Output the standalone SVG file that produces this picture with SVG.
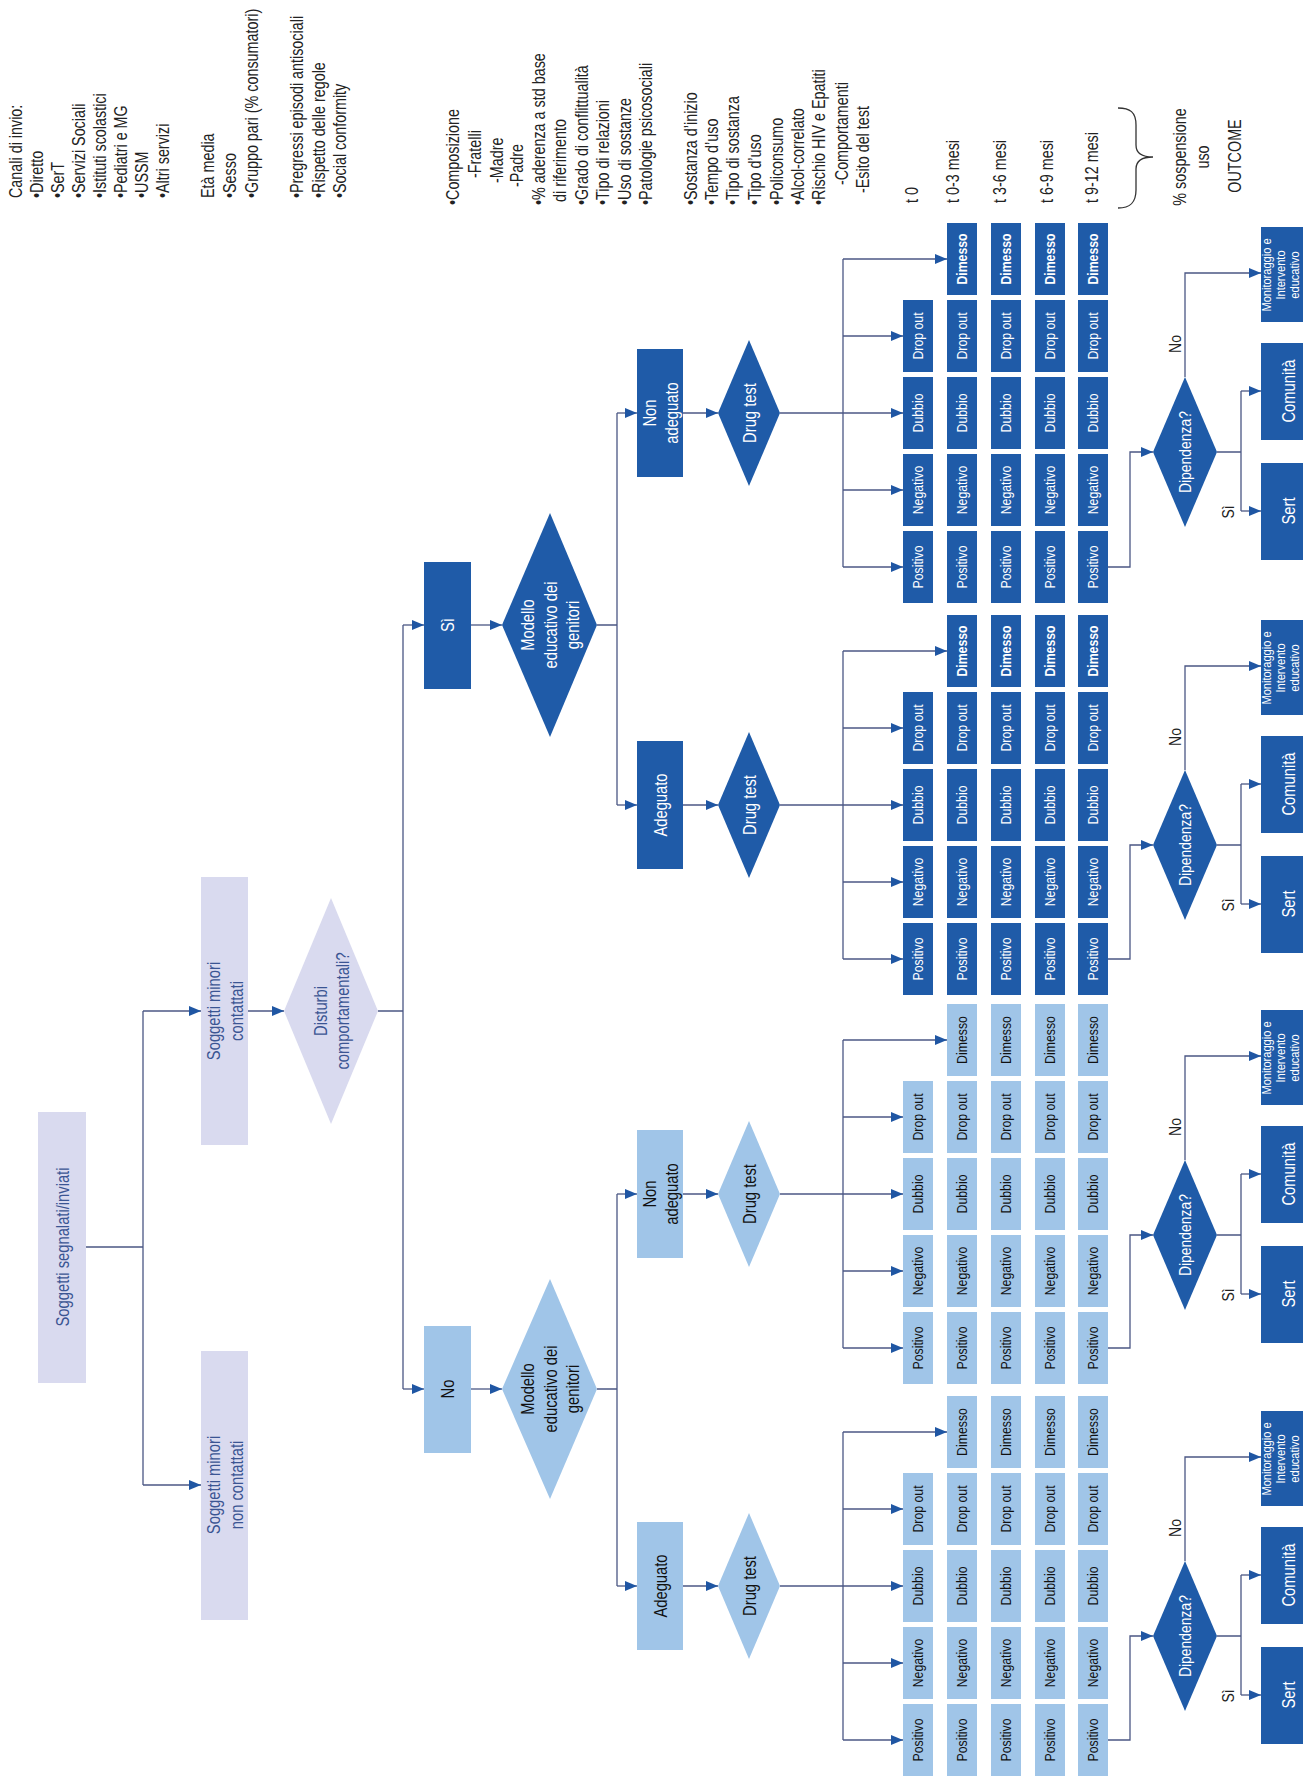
<svg xmlns="http://www.w3.org/2000/svg" width="1303" height="1778" viewBox="0 0 1303 1778">
<defs>
<marker id="ah" markerUnits="userSpaceOnUse" markerWidth="14" markerHeight="12" refX="12" refY="5" orient="auto"><path d="M0,0 L12,5 L0,10 z" fill="#1f56a3"/></marker>
<style>
text{font-family:"Liberation Sans",Arial,sans-serif;dominant-baseline:central}
.ln{stroke:#4b5784;stroke-width:1.3;fill:none}
.ar{marker-end:url(#ah)}
.dark rect,.dark polygon{fill:#1f5ba8}
.light rect,.light polygon{fill:#a0c5e8}
.lav rect,.lav polygon{fill:#d9daef}
.dark text{fill:#fff}
.light text{fill:#111}
.lav text{fill:#3b5593}
.node text{text-anchor:middle;font-size:18px}
.cols text{text-anchor:middle;font-size:15px}
.dark .dm{font-weight:bold}
.note text{font-size:17.5px;fill:#222;text-anchor:start}
.note .mid{text-anchor:middle}
.lbl text{font-size:17px;fill:#222;text-anchor:middle}
.bot text{font-size:18px}
.bot .mon{font-size:13.5px}
</style>
</defs>
<rect width="1303" height="1778" fill="#fff"/>

<g id="notes" class="note">
<text transform="translate(16,198) rotate(-90) scale(.82,1)">Canali di invio:</text>
<text transform="translate(37,198) rotate(-90) scale(.82,1)">•Diretto</text>
<text transform="translate(58,198) rotate(-90) scale(.82,1)">•SerT</text>
<text transform="translate(79,198) rotate(-90) scale(.82,1)">•Servizi Sociali</text>
<text transform="translate(100,198) rotate(-90) scale(.82,1)">•Istituti scolastici</text>
<text transform="translate(121,198) rotate(-90) scale(.82,1)">•Pediatri e MG</text>
<text transform="translate(142,198) rotate(-90) scale(.82,1)">•USSM</text>
<text transform="translate(163,198) rotate(-90) scale(.82,1)">•Altri servizi</text>
<text transform="translate(208,198) rotate(-90) scale(.82,1)">Età media</text>
<text transform="translate(230,198) rotate(-90) scale(.82,1)">•Sesso</text>
<text transform="translate(252,198) rotate(-90) scale(.82,1)">•Gruppo pari (% consumatori)</text>
<text transform="translate(297,198) rotate(-90) scale(.82,1)">•Pregressi episodi antisociali</text>
<text transform="translate(319,198) rotate(-90) scale(.82,1)">•Rispetto delle regole</text>
<text transform="translate(340,198) rotate(-90) scale(.82,1)">•Social conformity</text>

<text transform="translate(453,205) rotate(-90) scale(.82,1)">•Composizione</text>
<text transform="translate(475,178) rotate(-90) scale(.82,1)">-Fratelli</text>
<text transform="translate(497,183) rotate(-90) scale(.82,1)">-Madre</text>
<text transform="translate(517,187) rotate(-90) scale(.82,1)">-Padre</text>
<text transform="translate(539,205) rotate(-90) scale(.82,1)">•% aderenza a std base</text>
<text transform="translate(560,202) rotate(-90) scale(.82,1)">di riferimento</text>
<text transform="translate(582,205) rotate(-90) scale(.82,1)">•Grado di conflittualità</text>
<text transform="translate(603,205) rotate(-90) scale(.82,1)">•Tipo di relazioni</text>
<text transform="translate(625,205) rotate(-90) scale(.82,1)">•Uso di sostanze</text>
<text transform="translate(646,205) rotate(-90) scale(.82,1)">•Patologie psicosociali</text>
<text transform="translate(691,205) rotate(-90) scale(.82,1)">•Sostanza d’inizio</text>
<text transform="translate(712,205) rotate(-90) scale(.82,1)">•Tempo d’uso</text>
<text transform="translate(733,205) rotate(-90) scale(.82,1)">•Tipo di sostanza</text>
<text transform="translate(755,205) rotate(-90) scale(.82,1)">•Tipo d’uso</text>
<text transform="translate(777,205) rotate(-90) scale(.82,1)">•Policonsumo</text>
<text transform="translate(798,205) rotate(-90) scale(.82,1)">•Alcol-correlato</text>
<text transform="translate(819,205) rotate(-90) scale(.82,1)">•Rischio HIV e Epatiti</text>
<text transform="translate(842,185) rotate(-90) scale(.82,1)">-Comportamenti</text>
<text transform="translate(863,193) rotate(-90) scale(.82,1)">-Esito del test</text>

<text transform="translate(912,203) rotate(-90) scale(.82,1)">t 0</text>
<text transform="translate(953,203) rotate(-90) scale(.82,1)">t 0-3 mesi</text>
<text transform="translate(1000,203) rotate(-90) scale(.82,1)">t 3-6 mesi</text>
<text transform="translate(1047,203) rotate(-90) scale(.82,1)">t 6-9 mesi</text>
<text transform="translate(1092,203) rotate(-90) scale(.82,1)">t 9-12 mesi</text>
<text class="mid" transform="translate(1180,157) rotate(-90) scale(.82,1)">% sospensione</text>
<text class="mid" transform="translate(1203,157) rotate(-90) scale(.82,1)">uso</text>
<text class="mid" transform="translate(1235,156) rotate(-90) scale(.82,1)">OUTCOME</text>
<path d="M1118,108 C1130,108 1136,112 1136,125 L1136,145 C1136,153 1142,157 1153,157 C1142,157 1136,161 1136,169 L1136,190 C1136,203 1130,208 1118,208" fill="none" stroke="#333" stroke-width="1.3"/>
</g>

<g id="connectors">
<path class="ln" d="M86,1247 H143 M143,1011 V1485"/>
<path class="ln ar" d="M143,1011 H201"/>
<path class="ln ar" d="M143,1485 H201"/>
<path class="ln ar" d="M248,1011 H284"/>
<path class="ln" d="M378,1011 H403 M403,625 V1389"/>
<path class="ln ar" d="M403,625 H424"/>
<path class="ln ar" d="M403,1389 H424"/>
<path class="ln ar" d="M471,625 H502"/>
<path class="ln ar" d="M471,1389 H502"/>
<path class="ln" d="M597,625 H617 M617,413 V805 M597,1389 H617 M617,1194 V1586"/>
<path class="ln ar" d="M617,413 H637"/>
<path class="ln ar" d="M617,805 H637"/>
<path class="ln ar" d="M617,1194 H637"/>
<path class="ln ar" d="M617,1586 H637"/>
<path class="ln ar" d="M683,413 H718"/>
<path class="ln ar" d="M780,413 H903"/>
<path class="ln" d="M843,259 V567"/>
<path class="ln ar" d="M843,259 H947"/>
<path class="ln ar" d="M843,336 H903"/>
<path class="ln ar" d="M843,490 H903"/>
<path class="ln ar" d="M843,567 H903"/>
<path class="ln ar" d="M1108,567 H1130 V452 H1153"/>
<path class="ln" d="M1217,452 H1241 M1241,391 V511"/>
<path class="ln ar" d="M1241,391 H1261"/>
<path class="ln ar" d="M1241,511 H1261"/>
<path class="ln ar" d="M1185,377 V273 H1261"/>
<path class="ln ar" d="M683,805 H718"/>
<path class="ln ar" d="M780,805 H903"/>
<path class="ln" d="M843,651 V959"/>
<path class="ln ar" d="M843,651 H947"/>
<path class="ln ar" d="M843,728 H903"/>
<path class="ln ar" d="M843,882 H903"/>
<path class="ln ar" d="M843,959 H903"/>
<path class="ln ar" d="M1108,959 H1130 V845 H1153"/>
<path class="ln" d="M1217,845 H1241 M1241,784 V904"/>
<path class="ln ar" d="M1241,784 H1261"/>
<path class="ln ar" d="M1241,904 H1261"/>
<path class="ln ar" d="M1185,770 V666 H1261"/>
<path class="ln ar" d="M683,1194 H718"/>
<path class="ln ar" d="M780,1194 H903"/>
<path class="ln" d="M843,1040 V1348"/>
<path class="ln ar" d="M843,1040 H947"/>
<path class="ln ar" d="M843,1117 H903"/>
<path class="ln ar" d="M843,1271 H903"/>
<path class="ln ar" d="M843,1348 H903"/>
<path class="ln ar" d="M1108,1348 H1130 V1235 H1153"/>
<path class="ln" d="M1217,1235 H1241 M1241,1174 V1294"/>
<path class="ln ar" d="M1241,1174 H1261"/>
<path class="ln ar" d="M1241,1294 H1261"/>
<path class="ln ar" d="M1185,1160 V1056 H1261"/>
<path class="ln ar" d="M683,1586 H718"/>
<path class="ln ar" d="M780,1586 H903"/>
<path class="ln" d="M843,1432 V1740"/>
<path class="ln ar" d="M843,1432 H947"/>
<path class="ln ar" d="M843,1509 H903"/>
<path class="ln ar" d="M843,1663 H903"/>
<path class="ln ar" d="M843,1740 H903"/>
<path class="ln ar" d="M1108,1740 H1130 V1636 H1153"/>
<path class="ln" d="M1217,1636 H1241 M1241,1575 V1695"/>
<path class="ln ar" d="M1241,1575 H1261"/>
<path class="ln ar" d="M1241,1695 H1261"/>
<path class="ln ar" d="M1185,1561 V1457 H1261"/>
</g>

<g id="n-root" class="node lav"><rect x="38" y="1112" width="48" height="271"/><text transform="translate(62,1247) rotate(-90) scale(.82,1)">Soggetti segnalati/inviati</text></g>
<g id="n-contattati" class="node lav"><rect x="201" y="877" width="47" height="268"/><text transform="translate(213,1011) rotate(-90) scale(.82,1)">Soggetti minori</text><text transform="translate(236,1011) rotate(-90) scale(.82,1)">contattati</text></g>
<g id="n-noncontattati" class="node lav"><rect x="201" y="1351" width="47" height="269"/><text transform="translate(213,1485) rotate(-90) scale(.82,1)">Soggetti minori</text><text transform="translate(236,1485) rotate(-90) scale(.82,1)">non contattati</text></g>
<g id="n-disturbi" class="node lav"><polygon points="284,1011 331,898 378,1011 331,1124"/><text transform="translate(320,1011) rotate(-90) scale(.82,1)">Disturbi</text><text transform="translate(342,1011) rotate(-90) scale(.82,1)">comportamentali?</text></g>

<g id="n-si" class="node dark"><rect x="424" y="562" width="47" height="127"/><text transform="translate(447,625) rotate(-90) scale(.82,1)">Sì</text></g>
<g id="n-no" class="node light"><rect x="424" y="1326" width="47" height="127"/><text transform="translate(447,1389) rotate(-90) scale(.82,1)">No</text></g>
<g id="n-modello-si" class="node dark"><polygon points="502,625 550,513 597,625 550,737"/><text transform="translate(527,625) rotate(-90) scale(.82,1)">Modello</text><text transform="translate(550,625) rotate(-90) scale(.82,1)">educativo dei</text><text transform="translate(572,625) rotate(-90) scale(.82,1)">genitori</text></g>
<g id="n-modello-no" class="node light"><polygon points="502,1389 550,1279 597,1389 550,1499"/><text transform="translate(527,1389) rotate(-90) scale(.82,1)">Modello</text><text transform="translate(550,1389) rotate(-90) scale(.82,1)">educativo dei</text><text transform="translate(572,1389) rotate(-90) scale(.82,1)">genitori</text></g>

<g id="n-g1-nonadeguato" class="node dark"><rect x="637" y="349" width="46" height="128"/><text transform="translate(649,413) rotate(-90) scale(.82,1)">Non</text><text transform="translate(671,413) rotate(-90) scale(.82,1)">adeguato</text></g>
<g id="n-g2-adeguato" class="node dark"><rect x="637" y="741" width="46" height="128"/><text transform="translate(660,805) rotate(-90) scale(.82,1)">Adeguato</text></g>
<g id="n-g3-nonadeguato" class="node light"><rect x="637" y="1130" width="46" height="128"/><text transform="translate(649,1194) rotate(-90) scale(.82,1)">Non</text><text transform="translate(671,1194) rotate(-90) scale(.82,1)">adeguato</text></g>
<g id="n-g4-adeguato" class="node light"><rect x="637" y="1522" width="46" height="128"/><text transform="translate(660,1586) rotate(-90) scale(.82,1)">Adeguato</text></g>

<g id="n-g1-drugtest" class="node dark"><polygon points="718,413 749,340 780,413 749,486"/><text transform="translate(749,413) rotate(-90) scale(.82,1)">Drug test</text></g>
<g id="n-g2-drugtest" class="node dark"><polygon points="718,805 749,732 780,805 749,878"/><text transform="translate(749,805) rotate(-90) scale(.82,1)">Drug test</text></g>
<g id="n-g3-drugtest" class="node light"><polygon points="718,1194 749,1121 780,1194 749,1267"/><text transform="translate(749,1194) rotate(-90) scale(.82,1)">Drug test</text></g>
<g id="n-g4-drugtest" class="node light"><polygon points="718,1586 749,1513 780,1586 749,1659"/><text transform="translate(749,1586) rotate(-90) scale(.82,1)">Drug test</text></g>

<g id="g1-cols" class="cols dark" transform="translate(0,413)">
<g id="g1-t0-dropout"><rect x="903" y="-113" width="30" height="72"/><text transform="translate(918,-77) rotate(-90) scale(.82,1)">Drop out</text></g>
<g id="g1-t0-dubbio"><rect x="903" y="-36" width="30" height="72"/><text transform="translate(918,0) rotate(-90) scale(.82,1)">Dubbio</text></g>
<g id="g1-t0-negativo"><rect x="903" y="41" width="30" height="72"/><text transform="translate(918,77) rotate(-90) scale(.82,1)">Negativo</text></g>
<g id="g1-t0-positivo"><rect x="903" y="118" width="30" height="72"/><text transform="translate(918,154) rotate(-90) scale(.82,1)">Positivo</text></g>
<g id="g1-t1-dimesso"><rect x="947" y="-190" width="30" height="72"/><text class="dm" transform="translate(962,-154) rotate(-90) scale(.82,1)">Dimesso</text></g>
<g id="g1-t1-dropout"><rect x="947" y="-113" width="30" height="72"/><text transform="translate(962,-77) rotate(-90) scale(.82,1)">Drop out</text></g>
<g id="g1-t1-dubbio"><rect x="947" y="-36" width="30" height="72"/><text transform="translate(962,0) rotate(-90) scale(.82,1)">Dubbio</text></g>
<g id="g1-t1-negativo"><rect x="947" y="41" width="30" height="72"/><text transform="translate(962,77) rotate(-90) scale(.82,1)">Negativo</text></g>
<g id="g1-t1-positivo"><rect x="947" y="118" width="30" height="72"/><text transform="translate(962,154) rotate(-90) scale(.82,1)">Positivo</text></g>
<g id="g1-t2-dimesso"><rect x="991" y="-190" width="30" height="72"/><text class="dm" transform="translate(1006,-154) rotate(-90) scale(.82,1)">Dimesso</text></g>
<g id="g1-t2-dropout"><rect x="991" y="-113" width="30" height="72"/><text transform="translate(1006,-77) rotate(-90) scale(.82,1)">Drop out</text></g>
<g id="g1-t2-dubbio"><rect x="991" y="-36" width="30" height="72"/><text transform="translate(1006,0) rotate(-90) scale(.82,1)">Dubbio</text></g>
<g id="g1-t2-negativo"><rect x="991" y="41" width="30" height="72"/><text transform="translate(1006,77) rotate(-90) scale(.82,1)">Negativo</text></g>
<g id="g1-t2-positivo"><rect x="991" y="118" width="30" height="72"/><text transform="translate(1006,154) rotate(-90) scale(.82,1)">Positivo</text></g>
<g id="g1-t3-dimesso"><rect x="1035" y="-190" width="30" height="72"/><text class="dm" transform="translate(1050,-154) rotate(-90) scale(.82,1)">Dimesso</text></g>
<g id="g1-t3-dropout"><rect x="1035" y="-113" width="30" height="72"/><text transform="translate(1050,-77) rotate(-90) scale(.82,1)">Drop out</text></g>
<g id="g1-t3-dubbio"><rect x="1035" y="-36" width="30" height="72"/><text transform="translate(1050,0) rotate(-90) scale(.82,1)">Dubbio</text></g>
<g id="g1-t3-negativo"><rect x="1035" y="41" width="30" height="72"/><text transform="translate(1050,77) rotate(-90) scale(.82,1)">Negativo</text></g>
<g id="g1-t3-positivo"><rect x="1035" y="118" width="30" height="72"/><text transform="translate(1050,154) rotate(-90) scale(.82,1)">Positivo</text></g>
<g id="g1-t4-dimesso"><rect x="1078" y="-190" width="30" height="72"/><text class="dm" transform="translate(1093,-154) rotate(-90) scale(.82,1)">Dimesso</text></g>
<g id="g1-t4-dropout"><rect x="1078" y="-113" width="30" height="72"/><text transform="translate(1093,-77) rotate(-90) scale(.82,1)">Drop out</text></g>
<g id="g1-t4-dubbio"><rect x="1078" y="-36" width="30" height="72"/><text transform="translate(1093,0) rotate(-90) scale(.82,1)">Dubbio</text></g>
<g id="g1-t4-negativo"><rect x="1078" y="41" width="30" height="72"/><text transform="translate(1093,77) rotate(-90) scale(.82,1)">Negativo</text></g>
<g id="g1-t4-positivo"><rect x="1078" y="118" width="30" height="72"/><text transform="translate(1093,154) rotate(-90) scale(.82,1)">Positivo</text></g>
</g>

<g id="g2-cols" class="cols dark" transform="translate(0,805)">
<g id="g2-t0-dropout"><rect x="903" y="-113" width="30" height="72"/><text transform="translate(918,-77) rotate(-90) scale(.82,1)">Drop out</text></g>
<g id="g2-t0-dubbio"><rect x="903" y="-36" width="30" height="72"/><text transform="translate(918,0) rotate(-90) scale(.82,1)">Dubbio</text></g>
<g id="g2-t0-negativo"><rect x="903" y="41" width="30" height="72"/><text transform="translate(918,77) rotate(-90) scale(.82,1)">Negativo</text></g>
<g id="g2-t0-positivo"><rect x="903" y="118" width="30" height="72"/><text transform="translate(918,154) rotate(-90) scale(.82,1)">Positivo</text></g>
<g id="g2-t1-dimesso"><rect x="947" y="-190" width="30" height="72"/><text class="dm" transform="translate(962,-154) rotate(-90) scale(.82,1)">Dimesso</text></g>
<g id="g2-t1-dropout"><rect x="947" y="-113" width="30" height="72"/><text transform="translate(962,-77) rotate(-90) scale(.82,1)">Drop out</text></g>
<g id="g2-t1-dubbio"><rect x="947" y="-36" width="30" height="72"/><text transform="translate(962,0) rotate(-90) scale(.82,1)">Dubbio</text></g>
<g id="g2-t1-negativo"><rect x="947" y="41" width="30" height="72"/><text transform="translate(962,77) rotate(-90) scale(.82,1)">Negativo</text></g>
<g id="g2-t1-positivo"><rect x="947" y="118" width="30" height="72"/><text transform="translate(962,154) rotate(-90) scale(.82,1)">Positivo</text></g>
<g id="g2-t2-dimesso"><rect x="991" y="-190" width="30" height="72"/><text class="dm" transform="translate(1006,-154) rotate(-90) scale(.82,1)">Dimesso</text></g>
<g id="g2-t2-dropout"><rect x="991" y="-113" width="30" height="72"/><text transform="translate(1006,-77) rotate(-90) scale(.82,1)">Drop out</text></g>
<g id="g2-t2-dubbio"><rect x="991" y="-36" width="30" height="72"/><text transform="translate(1006,0) rotate(-90) scale(.82,1)">Dubbio</text></g>
<g id="g2-t2-negativo"><rect x="991" y="41" width="30" height="72"/><text transform="translate(1006,77) rotate(-90) scale(.82,1)">Negativo</text></g>
<g id="g2-t2-positivo"><rect x="991" y="118" width="30" height="72"/><text transform="translate(1006,154) rotate(-90) scale(.82,1)">Positivo</text></g>
<g id="g2-t3-dimesso"><rect x="1035" y="-190" width="30" height="72"/><text class="dm" transform="translate(1050,-154) rotate(-90) scale(.82,1)">Dimesso</text></g>
<g id="g2-t3-dropout"><rect x="1035" y="-113" width="30" height="72"/><text transform="translate(1050,-77) rotate(-90) scale(.82,1)">Drop out</text></g>
<g id="g2-t3-dubbio"><rect x="1035" y="-36" width="30" height="72"/><text transform="translate(1050,0) rotate(-90) scale(.82,1)">Dubbio</text></g>
<g id="g2-t3-negativo"><rect x="1035" y="41" width="30" height="72"/><text transform="translate(1050,77) rotate(-90) scale(.82,1)">Negativo</text></g>
<g id="g2-t3-positivo"><rect x="1035" y="118" width="30" height="72"/><text transform="translate(1050,154) rotate(-90) scale(.82,1)">Positivo</text></g>
<g id="g2-t4-dimesso"><rect x="1078" y="-190" width="30" height="72"/><text class="dm" transform="translate(1093,-154) rotate(-90) scale(.82,1)">Dimesso</text></g>
<g id="g2-t4-dropout"><rect x="1078" y="-113" width="30" height="72"/><text transform="translate(1093,-77) rotate(-90) scale(.82,1)">Drop out</text></g>
<g id="g2-t4-dubbio"><rect x="1078" y="-36" width="30" height="72"/><text transform="translate(1093,0) rotate(-90) scale(.82,1)">Dubbio</text></g>
<g id="g2-t4-negativo"><rect x="1078" y="41" width="30" height="72"/><text transform="translate(1093,77) rotate(-90) scale(.82,1)">Negativo</text></g>
<g id="g2-t4-positivo"><rect x="1078" y="118" width="30" height="72"/><text transform="translate(1093,154) rotate(-90) scale(.82,1)">Positivo</text></g>
</g>

<g id="g3-cols" class="cols light" transform="translate(0,1194)">
<g id="g3-t0-dropout"><rect x="903" y="-113" width="30" height="72"/><text transform="translate(918,-77) rotate(-90) scale(.82,1)">Drop out</text></g>
<g id="g3-t0-dubbio"><rect x="903" y="-36" width="30" height="72"/><text transform="translate(918,0) rotate(-90) scale(.82,1)">Dubbio</text></g>
<g id="g3-t0-negativo"><rect x="903" y="41" width="30" height="72"/><text transform="translate(918,77) rotate(-90) scale(.82,1)">Negativo</text></g>
<g id="g3-t0-positivo"><rect x="903" y="118" width="30" height="72"/><text transform="translate(918,154) rotate(-90) scale(.82,1)">Positivo</text></g>
<g id="g3-t1-dimesso"><rect x="947" y="-190" width="30" height="72"/><text class="dm" transform="translate(962,-154) rotate(-90) scale(.82,1)">Dimesso</text></g>
<g id="g3-t1-dropout"><rect x="947" y="-113" width="30" height="72"/><text transform="translate(962,-77) rotate(-90) scale(.82,1)">Drop out</text></g>
<g id="g3-t1-dubbio"><rect x="947" y="-36" width="30" height="72"/><text transform="translate(962,0) rotate(-90) scale(.82,1)">Dubbio</text></g>
<g id="g3-t1-negativo"><rect x="947" y="41" width="30" height="72"/><text transform="translate(962,77) rotate(-90) scale(.82,1)">Negativo</text></g>
<g id="g3-t1-positivo"><rect x="947" y="118" width="30" height="72"/><text transform="translate(962,154) rotate(-90) scale(.82,1)">Positivo</text></g>
<g id="g3-t2-dimesso"><rect x="991" y="-190" width="30" height="72"/><text class="dm" transform="translate(1006,-154) rotate(-90) scale(.82,1)">Dimesso</text></g>
<g id="g3-t2-dropout"><rect x="991" y="-113" width="30" height="72"/><text transform="translate(1006,-77) rotate(-90) scale(.82,1)">Drop out</text></g>
<g id="g3-t2-dubbio"><rect x="991" y="-36" width="30" height="72"/><text transform="translate(1006,0) rotate(-90) scale(.82,1)">Dubbio</text></g>
<g id="g3-t2-negativo"><rect x="991" y="41" width="30" height="72"/><text transform="translate(1006,77) rotate(-90) scale(.82,1)">Negativo</text></g>
<g id="g3-t2-positivo"><rect x="991" y="118" width="30" height="72"/><text transform="translate(1006,154) rotate(-90) scale(.82,1)">Positivo</text></g>
<g id="g3-t3-dimesso"><rect x="1035" y="-190" width="30" height="72"/><text class="dm" transform="translate(1050,-154) rotate(-90) scale(.82,1)">Dimesso</text></g>
<g id="g3-t3-dropout"><rect x="1035" y="-113" width="30" height="72"/><text transform="translate(1050,-77) rotate(-90) scale(.82,1)">Drop out</text></g>
<g id="g3-t3-dubbio"><rect x="1035" y="-36" width="30" height="72"/><text transform="translate(1050,0) rotate(-90) scale(.82,1)">Dubbio</text></g>
<g id="g3-t3-negativo"><rect x="1035" y="41" width="30" height="72"/><text transform="translate(1050,77) rotate(-90) scale(.82,1)">Negativo</text></g>
<g id="g3-t3-positivo"><rect x="1035" y="118" width="30" height="72"/><text transform="translate(1050,154) rotate(-90) scale(.82,1)">Positivo</text></g>
<g id="g3-t4-dimesso"><rect x="1078" y="-190" width="30" height="72"/><text class="dm" transform="translate(1093,-154) rotate(-90) scale(.82,1)">Dimesso</text></g>
<g id="g3-t4-dropout"><rect x="1078" y="-113" width="30" height="72"/><text transform="translate(1093,-77) rotate(-90) scale(.82,1)">Drop out</text></g>
<g id="g3-t4-dubbio"><rect x="1078" y="-36" width="30" height="72"/><text transform="translate(1093,0) rotate(-90) scale(.82,1)">Dubbio</text></g>
<g id="g3-t4-negativo"><rect x="1078" y="41" width="30" height="72"/><text transform="translate(1093,77) rotate(-90) scale(.82,1)">Negativo</text></g>
<g id="g3-t4-positivo"><rect x="1078" y="118" width="30" height="72"/><text transform="translate(1093,154) rotate(-90) scale(.82,1)">Positivo</text></g>
</g>

<g id="g4-cols" class="cols light" transform="translate(0,1586)">
<g id="g4-t0-dropout"><rect x="903" y="-113" width="30" height="72"/><text transform="translate(918,-77) rotate(-90) scale(.82,1)">Drop out</text></g>
<g id="g4-t0-dubbio"><rect x="903" y="-36" width="30" height="72"/><text transform="translate(918,0) rotate(-90) scale(.82,1)">Dubbio</text></g>
<g id="g4-t0-negativo"><rect x="903" y="41" width="30" height="72"/><text transform="translate(918,77) rotate(-90) scale(.82,1)">Negativo</text></g>
<g id="g4-t0-positivo"><rect x="903" y="118" width="30" height="72"/><text transform="translate(918,154) rotate(-90) scale(.82,1)">Positivo</text></g>
<g id="g4-t1-dimesso"><rect x="947" y="-190" width="30" height="72"/><text class="dm" transform="translate(962,-154) rotate(-90) scale(.82,1)">Dimesso</text></g>
<g id="g4-t1-dropout"><rect x="947" y="-113" width="30" height="72"/><text transform="translate(962,-77) rotate(-90) scale(.82,1)">Drop out</text></g>
<g id="g4-t1-dubbio"><rect x="947" y="-36" width="30" height="72"/><text transform="translate(962,0) rotate(-90) scale(.82,1)">Dubbio</text></g>
<g id="g4-t1-negativo"><rect x="947" y="41" width="30" height="72"/><text transform="translate(962,77) rotate(-90) scale(.82,1)">Negativo</text></g>
<g id="g4-t1-positivo"><rect x="947" y="118" width="30" height="72"/><text transform="translate(962,154) rotate(-90) scale(.82,1)">Positivo</text></g>
<g id="g4-t2-dimesso"><rect x="991" y="-190" width="30" height="72"/><text class="dm" transform="translate(1006,-154) rotate(-90) scale(.82,1)">Dimesso</text></g>
<g id="g4-t2-dropout"><rect x="991" y="-113" width="30" height="72"/><text transform="translate(1006,-77) rotate(-90) scale(.82,1)">Drop out</text></g>
<g id="g4-t2-dubbio"><rect x="991" y="-36" width="30" height="72"/><text transform="translate(1006,0) rotate(-90) scale(.82,1)">Dubbio</text></g>
<g id="g4-t2-negativo"><rect x="991" y="41" width="30" height="72"/><text transform="translate(1006,77) rotate(-90) scale(.82,1)">Negativo</text></g>
<g id="g4-t2-positivo"><rect x="991" y="118" width="30" height="72"/><text transform="translate(1006,154) rotate(-90) scale(.82,1)">Positivo</text></g>
<g id="g4-t3-dimesso"><rect x="1035" y="-190" width="30" height="72"/><text class="dm" transform="translate(1050,-154) rotate(-90) scale(.82,1)">Dimesso</text></g>
<g id="g4-t3-dropout"><rect x="1035" y="-113" width="30" height="72"/><text transform="translate(1050,-77) rotate(-90) scale(.82,1)">Drop out</text></g>
<g id="g4-t3-dubbio"><rect x="1035" y="-36" width="30" height="72"/><text transform="translate(1050,0) rotate(-90) scale(.82,1)">Dubbio</text></g>
<g id="g4-t3-negativo"><rect x="1035" y="41" width="30" height="72"/><text transform="translate(1050,77) rotate(-90) scale(.82,1)">Negativo</text></g>
<g id="g4-t3-positivo"><rect x="1035" y="118" width="30" height="72"/><text transform="translate(1050,154) rotate(-90) scale(.82,1)">Positivo</text></g>
<g id="g4-t4-dimesso"><rect x="1078" y="-190" width="30" height="72"/><text class="dm" transform="translate(1093,-154) rotate(-90) scale(.82,1)">Dimesso</text></g>
<g id="g4-t4-dropout"><rect x="1078" y="-113" width="30" height="72"/><text transform="translate(1093,-77) rotate(-90) scale(.82,1)">Drop out</text></g>
<g id="g4-t4-dubbio"><rect x="1078" y="-36" width="30" height="72"/><text transform="translate(1093,0) rotate(-90) scale(.82,1)">Dubbio</text></g>
<g id="g4-t4-negativo"><rect x="1078" y="41" width="30" height="72"/><text transform="translate(1093,77) rotate(-90) scale(.82,1)">Negativo</text></g>
<g id="g4-t4-positivo"><rect x="1078" y="118" width="30" height="72"/><text transform="translate(1093,154) rotate(-90) scale(.82,1)">Positivo</text></g>
</g>

<g id="g1-bottom" class="node dark bot" transform="translate(0,452)">
<g id="g1-dipendenza"><polygon points="1153,0 1185,-75 1217,0 1185,75"/><text style="font-size:17px" transform="translate(1185,0) rotate(-90) scale(.82,1)">Dipendenza?</text></g>
<g id="g1-monitoraggio"><rect x="1261" y="-225" width="60" height="95"/><text class="mon" transform="translate(1267,-177) rotate(-90) scale(.82,1)">Monitoraggio e</text><text class="mon" transform="translate(1281,-177) rotate(-90) scale(.82,1)">Intervento</text><text class="mon" transform="translate(1295,-177) rotate(-90) scale(.82,1)">educativo</text></g>
<g id="g1-comunita"><rect x="1261" y="-109" width="60" height="97"/><text transform="translate(1288,-61) rotate(-90) scale(.82,1)">Comunità</text></g>
<g id="g1-sert"><rect x="1261" y="11" width="60" height="97"/><text transform="translate(1288,59) rotate(-90) scale(.82,1)">Sert</text></g>
</g>
<g id="g2-bottom" class="node dark bot" transform="translate(0,845)">
<g id="g2-dipendenza"><polygon points="1153,0 1185,-75 1217,0 1185,75"/><text style="font-size:17px" transform="translate(1185,0) rotate(-90) scale(.82,1)">Dipendenza?</text></g>
<g id="g2-monitoraggio"><rect x="1261" y="-225" width="60" height="95"/><text class="mon" transform="translate(1267,-177) rotate(-90) scale(.82,1)">Monitoraggio e</text><text class="mon" transform="translate(1281,-177) rotate(-90) scale(.82,1)">Intervento</text><text class="mon" transform="translate(1295,-177) rotate(-90) scale(.82,1)">educativo</text></g>
<g id="g2-comunita"><rect x="1261" y="-109" width="60" height="97"/><text transform="translate(1288,-61) rotate(-90) scale(.82,1)">Comunità</text></g>
<g id="g2-sert"><rect x="1261" y="11" width="60" height="97"/><text transform="translate(1288,59) rotate(-90) scale(.82,1)">Sert</text></g>
</g>
<g id="g3-bottom" class="node dark bot" transform="translate(0,1235)">
<g id="g3-dipendenza"><polygon points="1153,0 1185,-75 1217,0 1185,75"/><text style="font-size:17px" transform="translate(1185,0) rotate(-90) scale(.82,1)">Dipendenza?</text></g>
<g id="g3-monitoraggio"><rect x="1261" y="-225" width="60" height="95"/><text class="mon" transform="translate(1267,-177) rotate(-90) scale(.82,1)">Monitoraggio e</text><text class="mon" transform="translate(1281,-177) rotate(-90) scale(.82,1)">Intervento</text><text class="mon" transform="translate(1295,-177) rotate(-90) scale(.82,1)">educativo</text></g>
<g id="g3-comunita"><rect x="1261" y="-109" width="60" height="97"/><text transform="translate(1288,-61) rotate(-90) scale(.82,1)">Comunità</text></g>
<g id="g3-sert"><rect x="1261" y="11" width="60" height="97"/><text transform="translate(1288,59) rotate(-90) scale(.82,1)">Sert</text></g>
</g>
<g id="g4-bottom" class="node dark bot" transform="translate(0,1636)">
<g id="g4-dipendenza"><polygon points="1153,0 1185,-75 1217,0 1185,75"/><text style="font-size:17px" transform="translate(1185,0) rotate(-90) scale(.82,1)">Dipendenza?</text></g>
<g id="g4-monitoraggio"><rect x="1261" y="-225" width="60" height="95"/><text class="mon" transform="translate(1267,-177) rotate(-90) scale(.82,1)">Monitoraggio e</text><text class="mon" transform="translate(1281,-177) rotate(-90) scale(.82,1)">Intervento</text><text class="mon" transform="translate(1295,-177) rotate(-90) scale(.82,1)">educativo</text></g>
<g id="g4-comunita"><rect x="1261" y="-109" width="60" height="97"/><text transform="translate(1288,-61) rotate(-90) scale(.82,1)">Comunità</text></g>
<g id="g4-sert"><rect x="1261" y="11" width="60" height="97"/><text transform="translate(1288,59) rotate(-90) scale(.82,1)">Sert</text></g>
</g>

<g id="labels" class="lbl">
<text transform="translate(1175,344) rotate(-90) scale(.82,1)">No</text>
<text transform="translate(1228,512) rotate(-90) scale(.82,1)">Sì</text>
<text transform="translate(1175,737) rotate(-90) scale(.82,1)">No</text>
<text transform="translate(1228,905) rotate(-90) scale(.82,1)">Sì</text>
<text transform="translate(1175,1127) rotate(-90) scale(.82,1)">No</text>
<text transform="translate(1228,1295) rotate(-90) scale(.82,1)">Sì</text>
<text transform="translate(1175,1528) rotate(-90) scale(.82,1)">No</text>
<text transform="translate(1228,1696) rotate(-90) scale(.82,1)">Sì</text>
</g>
</svg>
